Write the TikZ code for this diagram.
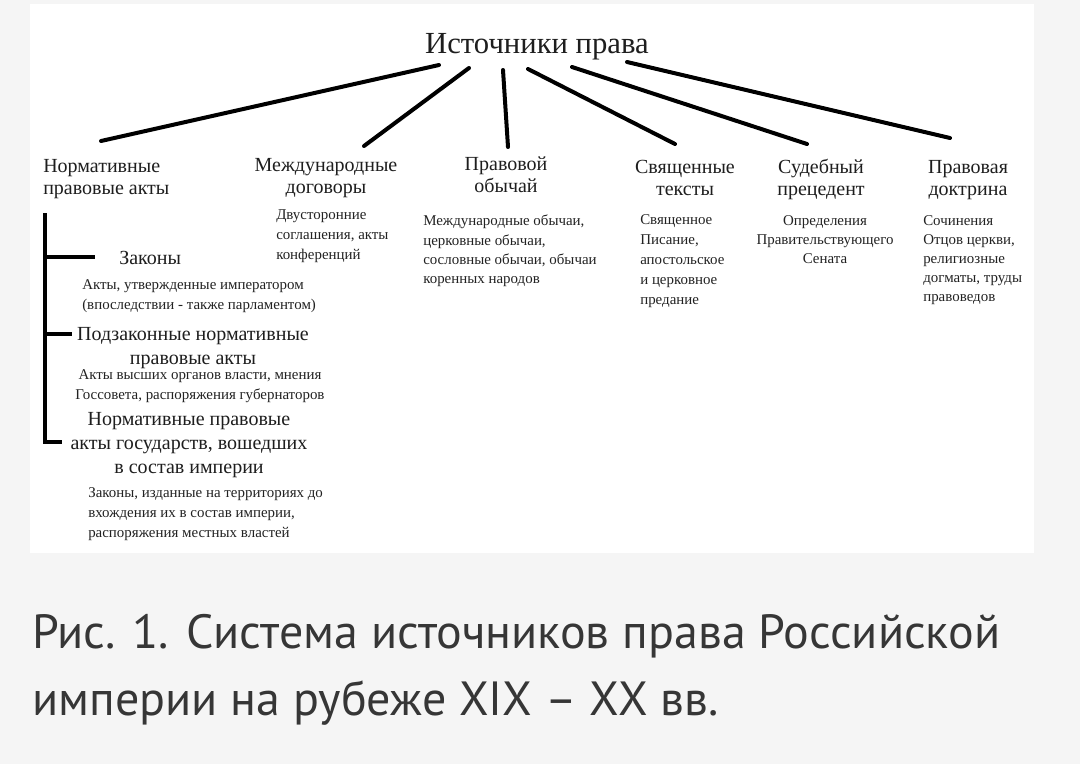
\documentclass[tikz,border=0pt]{standalone}
\usepackage{fontspec}
\setmainfont{Liberation Serif}
\newfontfamily\capfont{PT Sans}
\definecolor{pagebg}{HTML}{F5F5F5}
\definecolor{hdrcol}{HTML}{1E1E1E}
\definecolor{smallcol}{HTML}{222222}
\definecolor{capcol}{HTML}{363636}
\begin{document}
\begin{tikzpicture}[x=0.75pt,y=-0.75pt,
  conn/.style={line width=3pt, line cap=round, black},
  bracket/.style={line width=3pt, black},
  rootnode/.style={inner sep=0pt, font=\fontsize{23}{24}\selectfont, text=hdrcol},
  hdr/.style={inner sep=0pt, font=\fontsize{15}{16.5}\selectfont, text=hdrcol, align=center},
  subhdr/.style={inner sep=0pt, font=\fontsize{15}{18}\selectfont, text=hdrcol, align=center},
  small/.style={inner sep=0pt, font=\fontsize{11.2}{15}\selectfont, text=smallcol},
  smalltight/.style={inner sep=0pt, font=\fontsize{11.2}{14.4}\selectfont, text=smallcol},
  caption/.style={inner sep=0pt, font=\capfont\fontsize{36}{50.25}\selectfont, text=capcol, align=left}
]
\useasboundingbox (0,0) rectangle (1080,764);
\fill[pagebg] (0,0) rectangle (1080,764);
\fill[white] (30,4) rectangle (1034,553);

% root
\node[rootnode, anchor=base] (root) at (537,53) {Источники права};

% headers
\node[hdr, anchor=north west, align=left] (norm) at (43,159) {Нормативные\\правовые акты};
\node[hdr, anchor=north] (intl) at (326,158) {Международные\\договоры};
\node[hdr, anchor=north] (custom) at (506,157) {Правовой\\обычай};
\node[hdr, anchor=north] (sacred) at (685,160) {Священные\\тексты};
\node[hdr, anchor=north] (prec) at (821,159) {Судебный\\прецедент};
\node[hdr, anchor=north] (doct) at (968,160) {Правовая\\доктрина};

% descriptions
\node[small, anchor=north west, align=left] (intld) at (276,209) {Двусторонние\\соглашения, акты\\конференций};
\node[smalltight, anchor=north west, align=left] (customd) at (423,215) {Международные обычаи,\\церковные обычаи,\\сословные обычаи, обычаи\\коренных народов};
\node[small, anchor=north west, align=left] (sacredd) at (640,214) {Священное\\Писание,\\апостольское\\и церковное\\предание};
\node[smalltight, anchor=north, align=center] (precd) at (825,215) {Определения\\Правительствующего\\Сената};
\node[smalltight, anchor=north west, align=left] (doctd) at (923,215) {Сочинения\\Отцов церкви,\\религиозные\\догматы, труды\\правоведов};

% normative acts subtree
\node[hdr, anchor=base west] (laws) at (119,264) {Законы};
\node[small, anchor=north west, align=left] (lawsd) at (82,279) {Акты, утвержденные императором\\(впоследствии - также парламентом)};
\node[subhdr, anchor=north] (bylaws) at (193,327) {Подзаконные нормативные\\правовые акты};
\node[small, anchor=north, align=center] (bylawsd) at (200,369) {Акты высших органов власти, мнения\\Госсовета, распоряжения губернаторов};
\node[subhdr, anchor=north] (states) at (189,412) {Нормативные правовые\\акты государств, вошедших\\в состав империи};
\node[small, anchor=north west, align=left] (statesd) at (88,487) {Законы, изданные на территориях до\\вхождения их в состав империи,\\распоряжения местных властей};

% connector end points
\coordinate (r1) at (439,65);  \coordinate (e1) at (101,141);
\coordinate (r2) at (469,68);  \coordinate (e2) at (364,146);
\coordinate (r3) at (503,70);  \coordinate (e3) at (508,147);
\coordinate (r4) at (528,69);  \coordinate (e4) at (675,144);
\coordinate (r5) at (572,67);  \coordinate (e5) at (807,144);
\coordinate (r6) at (627,62);  \coordinate (e6) at (950,138);
\draw[conn] (r1) -- (e1);
\draw[conn] (r2) -- (e2);
\draw[conn] (r3) -- (e3);
\draw[conn] (r4) -- (e4);
\draw[conn] (r5) -- (e5);
\draw[conn] (r6) -- (e6);

% bracket
\coordinate (bt) at (45,213);
\coordinate (bl) at (45,257);  \coordinate (blx) at (95,257);
\coordinate (bm) at (45,334);  \coordinate (bmx) at (72,334);
\coordinate (bb) at (45,442);  \coordinate (bbx) at (62,442);
\draw[bracket] (bt) -- (bb) -- (bbx);
\draw[bracket] (bl) -- (blx);
\draw[bracket] (bm) -- (bmx);

% caption
\node[caption, anchor=base west] (cap1) at (32,648) {Рис. 1. Система источников права Российской};
\node[caption, anchor=base west] (cap2) at (32,715) {империи на рубеже XIX – XX вв.};
\end{tikzpicture}
\end{document}
